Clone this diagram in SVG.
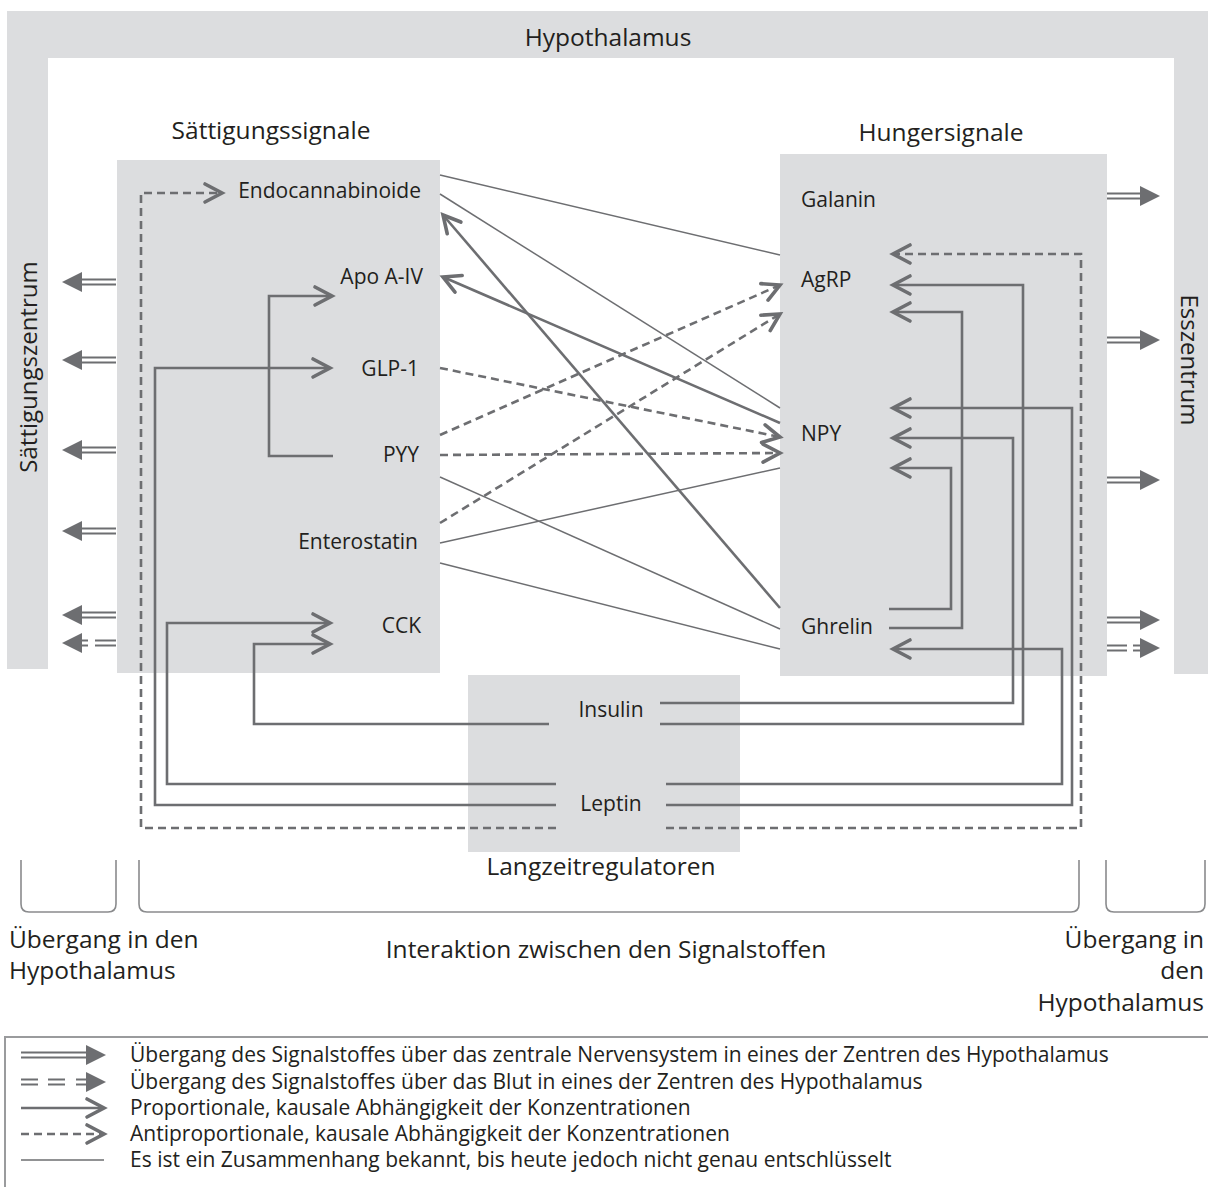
<svg xmlns="http://www.w3.org/2000/svg" width="1208" height="1187" viewBox="0 0 1208 1187">
<style>
text{font-family:"Open Sans","DejaVu Sans",sans-serif;fill:#231f20}
.hdr{font-size:24.5px}
.vhdr{font-size:24px}
.lbl{font-size:21px}
.leg{font-size:21px}
.box{fill:#dcdddf}
.thin{fill:none;stroke:#6d6e71;stroke-width:1.5}
.route{fill:none;stroke:#6d6e71;stroke-width:2.6}
.dash{fill:none;stroke:#6d6e71;stroke-width:2.6;stroke-dasharray:8 5}
.arr{marker-end:url(#chev)}
.brk{fill:none;stroke:#8a8b8d;stroke-width:1.6}
</style>
<defs>
<marker id="chev" markerUnits="userSpaceOnUse" markerWidth="24" markerHeight="24" refX="20" refY="12" orient="auto" overflow="visible">
<path d="M3,3 L20,12 L3,21" fill="none" stroke="#6d6e71" stroke-width="3.6" stroke-linecap="round" stroke-linejoin="miter"/>
</marker>
<g id="dblR">
<line x1="-53" y1="-2.5" x2="-19" y2="-2.5" stroke="#6d6e71" stroke-width="2"/>
<line x1="-53" y1="2.5" x2="-19" y2="2.5" stroke="#6d6e71" stroke-width="2"/>
<polygon points="0,0 -20,-10 -20,10" fill="#6d6e71"/>
</g>
<g id="dblRd">
<line x1="-53" y1="-2.5" x2="-33" y2="-2.5" stroke="#6d6e71" stroke-width="2"/>
<line x1="-53" y1="2.5" x2="-33" y2="2.5" stroke="#6d6e71" stroke-width="2"/>
<line x1="-27" y1="-2.5" x2="-19" y2="-2.5" stroke="#6d6e71" stroke-width="2"/>
<line x1="-27" y1="2.5" x2="-19" y2="2.5" stroke="#6d6e71" stroke-width="2"/>
<polygon points="0,0 -20,-10 -20,10" fill="#6d6e71"/>
</g>
<g id="dblL">
<line x1="19" y1="-2.5" x2="54" y2="-2.5" stroke="#6d6e71" stroke-width="2"/>
<line x1="19" y1="2.5" x2="54" y2="2.5" stroke="#6d6e71" stroke-width="2"/>
<polygon points="0,0 20,-10 20,10" fill="#6d6e71"/>
</g>
<g id="dblLd">
<line x1="19" y1="-2.5" x2="26" y2="-2.5" stroke="#6d6e71" stroke-width="2"/>
<line x1="19" y1="2.5" x2="26" y2="2.5" stroke="#6d6e71" stroke-width="2"/>
<line x1="33" y1="-2.5" x2="54" y2="-2.5" stroke="#6d6e71" stroke-width="2"/>
<line x1="33" y1="2.5" x2="54" y2="2.5" stroke="#6d6e71" stroke-width="2"/>
<polygon points="0,0 20,-10 20,10" fill="#6d6e71"/>
</g>
</defs>
<rect width="1208" height="1187" fill="#ffffff"/>

<g id="hypothalamus">
<path class="box" d="M7,11 H1208 V674 H1174 V58 H48 V669 H7 Z"/>
<text class="hdr" x="608" y="46" text-anchor="middle">Hypothalamus</text>
<text class="vhdr" transform="translate(37,367) rotate(-90)" text-anchor="middle">Sättigungszentrum</text>
<text class="vhdr" transform="translate(1181,360) rotate(90)" text-anchor="middle">Esszentrum</text>
</g>

<g id="saettigungssignale">
<rect class="box" x="117" y="160" width="323" height="513"/>
<text class="hdr" x="271" y="139" text-anchor="middle">Sättigungssignale</text>
</g>
<g id="hungersignale">
<rect class="box" x="780" y="154" width="327" height="522"/>
<text class="hdr" x="941" y="141" text-anchor="middle">Hungersignale</text>
</g>
<g id="langzeitregulatoren">
<rect class="box" x="468" y="675" width="272" height="177"/>
<text class="hdr" x="601" y="875" text-anchor="middle">Langzeitregulatoren</text>
</g>

<g id="connectors">
<use href="#dblL" x="62" y="282"/>
<use href="#dblL" x="62" y="360"/>
<use href="#dblL" x="62" y="450"/>
<use href="#dblL" x="62" y="531"/>
<use href="#dblL" x="62" y="615"/>
<use href="#dblLd" x="62" y="643"/>
<use href="#dblR" x="1160" y="196"/>
<use href="#dblR" x="1160" y="340"/>
<use href="#dblR" x="1160" y="480"/>
<use href="#dblR" x="1160" y="620"/>
<use href="#dblRd" x="1160" y="648"/>

<line class="thin" x1="440" y1="175" x2="780" y2="255"/>
<line class="thin" x1="440" y1="194" x2="780" y2="408"/>
<line class="thin" x1="440" y1="477" x2="780" y2="629"/>
<line class="thin" x1="440" y1="543" x2="780" y2="468"/>
<line class="thin" x1="440" y1="563" x2="780" y2="649"/>
<line class="route arr" x1="780" y1="608" x2="443" y2="215"/>
<line class="route arr" x1="780" y1="423" x2="443" y2="277"/>
<line class="dash arr" x1="440" y1="368" x2="780" y2="437"/>
<line class="dash arr" x1="440" y1="455" x2="780" y2="453"/>
<line class="dash arr" x1="440" y1="435" x2="780" y2="285"/>
<line class="dash arr" x1="440" y1="523" x2="780" y2="314"/>

<path class="route arr" d="M333,456 H269 V296 H332"/>
<path class="route arr" d="M556,805 H155 V368 H330"/>
<path class="route arr" d="M556,784 H167 V623 H330"/>
<path class="route arr" d="M549,724 H254 V644 H330"/>
<path class="dash arr" d="M556,828 H141 V193 H222"/>
<path class="route arr" d="M660,703 H1013 V438 H893"/>
<path class="route arr" d="M660,724 H1023 V285 H893"/>
<path class="route arr" d="M666,805 H1072 V408 H893"/>
<path class="route arr" d="M666,784 H1062 V649 H893"/>
<path class="route arr" d="M889,609 H951 V468 H893"/>
<path class="route arr" d="M889,628 H962 V312 H893"/>
<path class="dash arr" d="M666,828 H1081 V254 H893"/>
</g>

<g id="node-endocannabinoide"><text class="lbl" x="421" y="198" text-anchor="end">Endocannabinoide</text></g>
<g id="node-apo"><text class="lbl" x="423" y="284" text-anchor="end">Apo A-IV</text></g>
<g id="node-glp1"><text class="lbl" x="419" y="376" text-anchor="end">GLP-1</text></g>
<g id="node-pyy"><text class="lbl" x="419" y="462" text-anchor="end">PYY</text></g>
<g id="node-enterostatin"><text class="lbl" x="418" y="549" text-anchor="end">Enterostatin</text></g>
<g id="node-cck"><text class="lbl" x="421" y="633" text-anchor="end">CCK</text></g>
<g id="node-galanin"><text class="lbl" x="801" y="207">Galanin</text></g>
<g id="node-agrp"><text class="lbl" x="801" y="287">AgRP</text></g>
<g id="node-npy"><text class="lbl" x="801" y="441">NPY</text></g>
<g id="node-ghrelin"><text class="lbl" x="801" y="634">Ghrelin</text></g>
<g id="node-insulin"><text class="lbl" x="611" y="717" text-anchor="middle">Insulin</text></g>
<g id="node-leptin"><text class="lbl" x="611" y="811" text-anchor="middle">Leptin</text></g>

<g id="brackets">
<path class="brk" d="M21,860 V904 Q21,912 29,912 H108 Q116,912 116,904 V860"/>
<path class="brk" d="M139,860 V904 Q139,912 147,912 H1071 Q1079,912 1079,904 V860"/>
<path class="brk" d="M1106,860 V904 Q1106,912 1114,912 H1197 Q1205,912 1205,904 V860"/>
<text class="hdr" x="9" y="948">Übergang in den</text>
<text class="hdr" x="9" y="979">Hypothalamus</text>
<text class="hdr" x="606" y="958" text-anchor="middle">Interaktion zwischen den Signalstoffen</text>
<text class="hdr" x="1204" y="948" text-anchor="end">Übergang in</text>
<text class="hdr" x="1204" y="979" text-anchor="end">den</text>
<text class="hdr" x="1204" y="1011" text-anchor="end">Hypothalamus</text>
</g>

<g id="legend">
<path d="M5,1187 V1037 H1208" fill="none" stroke="#9a9b9d" stroke-width="2"/>
<line x1="21" y1="1052.5" x2="88" y2="1052.5" stroke="#6d6e71" stroke-width="2"/>
<line x1="21" y1="1057.5" x2="88" y2="1057.5" stroke="#6d6e71" stroke-width="2"/>
<polygon points="106,1055 86,1045 86,1065" fill="#6d6e71"/>
<g stroke="#6d6e71" stroke-width="2">
<line x1="21" y1="1079.5" x2="38" y2="1079.5"/><line x1="21" y1="1084.5" x2="38" y2="1084.5"/>
<line x1="48" y1="1079.5" x2="65" y2="1079.5"/><line x1="48" y1="1084.5" x2="65" y2="1084.5"/>
<line x1="76" y1="1079.5" x2="88" y2="1079.5"/><line x1="76" y1="1084.5" x2="88" y2="1084.5"/>
</g>
<polygon points="106,1082 86,1072 86,1092" fill="#6d6e71"/>
<line class="route arr" x1="21" y1="1108" x2="104" y2="1108"/>
<line class="dash arr" x1="21" y1="1134" x2="104" y2="1134"/>
<line class="thin" x1="21" y1="1160" x2="104" y2="1160"/>
<text class="leg" x="130" y="1062">Übergang des Signalstoffes über das zentrale Nervensystem in eines der Zentren des Hypothalamus</text>
<text class="leg" x="130" y="1089">Übergang des Signalstoffes über das Blut in eines der Zentren des Hypothalamus</text>
<text class="leg" x="130" y="1115">Proportionale, kausale Abhängigkeit der Konzentrationen</text>
<text class="leg" x="130" y="1141">Antiproportionale, kausale Abhängigkeit der Konzentrationen</text>
<text class="leg" x="130" y="1167">Es ist ein Zusammenhang bekannt, bis heute jedoch nicht genau entschlüsselt</text>
</g>
</svg>
